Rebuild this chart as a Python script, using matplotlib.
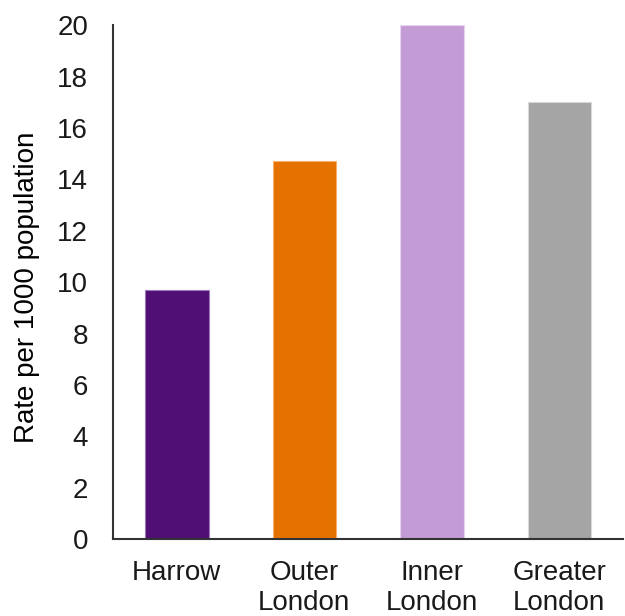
import matplotlib
matplotlib.use('Agg')
import matplotlib.pyplot as plt

# Data
categories = ['Harrow', 'Outer\nLondon', 'Inner\nLondon', 'Greater\nLondon']
rates = [9.7, 14.7, 20.0, 17.0]
colors = ['#4F0F75', '#E57100', '#C39CD6', '#A5A5A5']
edge_colors = ['#9A7AB8', '#F5B070', '#E8D4F0', '#D8D8D8']
y_ticks = list(range(0, 21, 2))

plt.rcParams['font.family'] = ['Liberation Sans', 'DejaVu Sans']

fig = plt.figure(figsize=(6.25, 6.16), dpi=100)
ax = fig.add_axes([0.181, 0.125, 0.816, 0.834])

x = range(len(categories))
ax.bar(x, rates, width=0.5, color=colors, edgecolor=edge_colors, linewidth=0.8)

ax.set_xlim(-0.5, 3.5)
ax.set_ylim(0, 20)
ax.set_yticks(y_ticks)
ax.set_xticks(list(x))
ax.set_xticklabels(categories, fontsize=20, linespacing=1.2, color='#1a1a1a')
ax.tick_params(axis='y', length=0, pad=18, labelsize=20, labelcolor='#1a1a1a')
ax.tick_params(axis='x', length=0, pad=15)

ax.set_ylabel('Rate per 1000 population', fontsize=20, color='#000000')
ax.yaxis.set_label_coords(-0.143, 0.49)

for side in ['top', 'right']:
    ax.spines[side].set_visible(False)
for side in ['left', 'bottom']:
    ax.spines[side].set_color('#333333')
    ax.spines[side].set_linewidth(1.5)

fig.savefig('out.png', dpi=100)
